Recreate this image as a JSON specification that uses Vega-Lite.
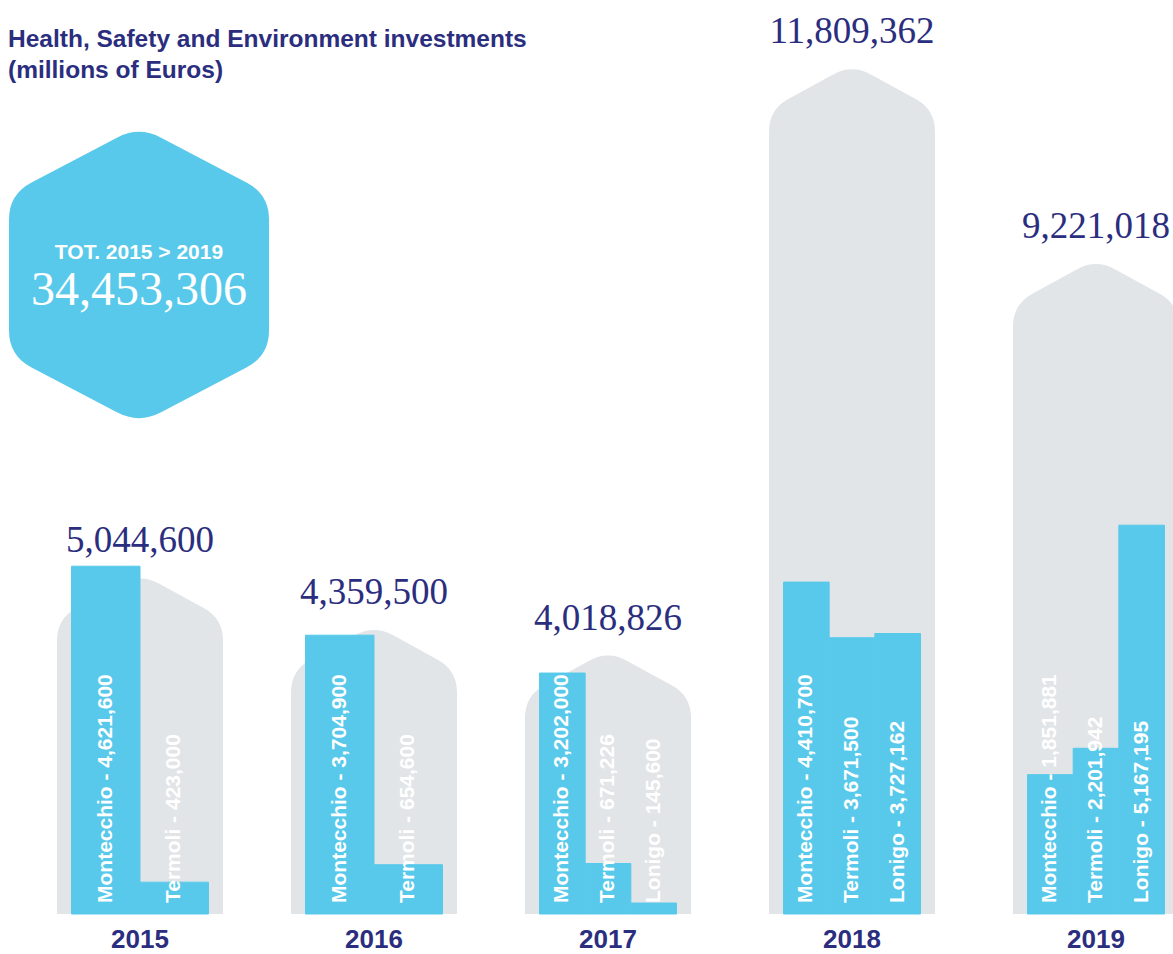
{
  "$schema": "https://vega.github.io/schema/vega-lite/v6.json",
  "padding": {"left": 8, "top": 0, "right": 0, "bottom": 0},
  "background": "#ffffff",
  "bounds": "full",
  "spacing": 78,
  "config": {"view": {"stroke": null}, "axis": {"disable": true}},
  "datasets": {
    "hse": [
      {"year": "2015", "plant": "Montecchio", "value": 4621600, "label": "Montecchio - 4,621,600"},
      {"year": "2015", "plant": "Termoli", "value": 423000, "label": "Termoli - 423,000"},
      {"year": "2016", "plant": "Montecchio", "value": 3704900, "label": "Montecchio - 3,704,900"},
      {"year": "2016", "plant": "Termoli", "value": 654600, "label": "Termoli - 654,600"},
      {"year": "2017", "plant": "Montecchio", "value": 3202000, "label": "Montecchio - 3,202,000"},
      {"year": "2017", "plant": "Termoli", "value": 671226, "label": "Termoli - 671,226"},
      {"year": "2017", "plant": "Lonigo", "value": 145600, "label": "Lonigo - 145,600"},
      {"year": "2018", "plant": "Montecchio", "value": 4410700, "label": "Montecchio - 4,410,700"},
      {"year": "2018", "plant": "Termoli", "value": 3671500, "label": "Termoli - 3,671,500"},
      {"year": "2018", "plant": "Lonigo", "value": 3727162, "label": "Lonigo - 3,727,162"},
      {"year": "2019", "plant": "Montecchio", "value": 1851881, "label": "Montecchio - 1,851,881"},
      {"year": "2019", "plant": "Termoli", "value": 2201942, "label": "Termoli - 2,201,942"},
      {"year": "2019", "plant": "Lonigo", "value": 5167195, "label": "Lonigo - 5,167,195"}
    ]
  },
  "hconcat": [
    {
      "bounds": "flush",
      "spacing": 68,
      "hconcat": [
        {
          "width": 166, "height": 914,
          "data": {"name": "hse"},
          "transform": [{"filter": "datum.year == '2015'"}],
          "layer": [
            {"transform": [{"aggregate": [{"op": "sum", "field": "value", "as": "total"}], "groupby": ["year"]}],
             "layer": [
              {"mark": {"type": "rect", "color": "#e2e5e8", "yOffset": 138},
               "encoding": {"y": {"field": "total", "type": "quantitative", "scale": {"domain": [0, 12146000], "nice": false}, "axis": null}, "y2": {"datum": 0}}},
              {"mark": {"type": "point", "shape": "M-19.3,10.6Q0,0 19.3,10.6L63.7,35Q83,45.6 83,67.6L83,140L-83,140L-83,67.6Q-83,45.6 -63.7,35Z", "size": 4, "filled": true, "color": "#e2e5e8", "opacity": 1, "strokeWidth": 0, "yOffset": 38.7},
               "encoding": {"y": {"field": "total", "type": "quantitative", "scale": {"domain": [0, 12146000], "nice": false}}}},
              {"mark": {"type": "text", "font": "Liberation Serif", "fontSize": 37, "color": "#2b2e7e", "baseline": "alphabetic", "dy": 18},
               "encoding": {"y": {"field": "total", "type": "quantitative", "scale": {"domain": [0, 12146000], "nice": false}}, "text": {"field": "total", "type": "quantitative", "format": ","}}},
              {"mark": {"type": "text", "font": "Liberation Sans", "fontWeight": "bold", "fontSize": 26, "color": "#2b2e7e", "baseline": "alphabetic", "dy": 34},
               "encoding": {"y": {"datum": 0, "type": "quantitative", "scale": {"domain": [0, 12146000], "nice": false}}, "text": {"field": "year", "type": "nominal"}}}
             ]},
            {"mark": {"type": "bar", "color": "#58c9ea", "stroke": "#58c9ea", "strokeWidth": 1},
             "encoding": {"x": {"field": "plant", "type": "nominal", "sort": ["Montecchio", "Termoli", "Lonigo"], "scale": {"paddingInner": 0, "paddingOuter": 0.2117}, "axis": null},
                          "y": {"field": "value", "type": "quantitative", "scale": {"domain": [0, 12146000], "nice": false}, "axis": null}}},
            {"mark": {"type": "text", "angle": 270, "align": "left", "baseline": "middle", "dx": 11, "font": "Liberation Sans", "fontWeight": "bold", "fontSize": 21, "color": "#ffffff"},
             "encoding": {"x": {"field": "plant", "type": "nominal", "sort": ["Montecchio", "Termoli", "Lonigo"], "scale": {"paddingInner": 0, "paddingOuter": 0.2117}, "axis": null},
                          "y": {"datum": 0, "type": "quantitative", "scale": {"domain": [0, 12146000], "nice": false}}, "text": {"field": "label", "type": "nominal"}}},
            {"data": {"name": "hse"},
             "transform": [{"aggregate": [{"op": "sum", "field": "value", "as": "grand"}]}],
             "layer": [
              {"mark": {"type": "point", "shape": "M-22.1,-137.35Q0,-149 22.1,-137.35L107.9,-92.2Q130,-80.5 130,-55.5L130,55.5Q130,80.5 107.9,92.2L22.1,137.35Q0,149 -22.1,137.35L-107.9,92.2Q-130,80.5 -130,55.5L-130,-55.5Q-130,-80.5 -107.9,-92.2Z", "size": 4, "filled": true, "color": "#58c9ea", "opacity": 1, "strokeWidth": 0, "xOffset": -1, "yOffset": -182},
               "encoding": {}},
              {"mark": {"type": "text", "text": "TOT. 2015 > 2019", "font": "Liberation Sans", "fontWeight": "bold", "fontSize": 21, "color": "#ffffff", "baseline": "alphabetic", "dx": -1, "dy": -197.7},
               "encoding": {}},
              {"mark": {"type": "text", "font": "Liberation Serif", "fontSize": 48, "color": "#ffffff", "baseline": "alphabetic", "dx": -1, "dy": -152},
               "encoding": {"text": {"field": "grand", "type": "quantitative", "format": ","}}},
              {"mark": {"type": "text", "text": ["Health, Safety and Environment investments", "(millions of Euros)"], "font": "Liberation Sans", "fontWeight": "bold", "fontSize": 24.5, "lineHeight": 31, "color": "#2b2e7e", "align": "left", "baseline": "alphabetic", "dx": -132, "dy": -410},
               "encoding": {}}
             ]}
          ]
        },
        {
          "width": 166, "height": 914,
          "data": {"name": "hse"},
          "transform": [{"filter": "datum.year == '2016'"}],
          "layer": [
            {"transform": [{"aggregate": [{"op": "sum", "field": "value", "as": "total"}], "groupby": ["year"]}],
             "layer": [
              {"mark": {"type": "rect", "color": "#e2e5e8", "yOffset": 138},
               "encoding": {"y": {"field": "total", "type": "quantitative", "scale": {"domain": [0, 12146000], "nice": false}, "axis": null}, "y2": {"datum": 0}}},
              {"mark": {"type": "point", "shape": "M-19.3,10.6Q0,0 19.3,10.6L63.7,35Q83,45.6 83,67.6L83,140L-83,140L-83,67.6Q-83,45.6 -63.7,35Z", "size": 4, "filled": true, "color": "#e2e5e8", "opacity": 1, "strokeWidth": 0, "yOffset": 38.7},
               "encoding": {"y": {"field": "total", "type": "quantitative", "scale": {"domain": [0, 12146000], "nice": false}}}},
              {"mark": {"type": "text", "font": "Liberation Serif", "fontSize": 37, "color": "#2b2e7e", "baseline": "alphabetic", "dy": 18},
               "encoding": {"y": {"field": "total", "type": "quantitative", "scale": {"domain": [0, 12146000], "nice": false}}, "text": {"field": "total", "type": "quantitative", "format": ","}}},
              {"mark": {"type": "text", "font": "Liberation Sans", "fontWeight": "bold", "fontSize": 26, "color": "#2b2e7e", "baseline": "alphabetic", "dy": 34},
               "encoding": {"y": {"datum": 0, "type": "quantitative", "scale": {"domain": [0, 12146000], "nice": false}}, "text": {"field": "year", "type": "nominal"}}}
             ]},
            {"mark": {"type": "bar", "color": "#58c9ea", "stroke": "#58c9ea", "strokeWidth": 1},
             "encoding": {"x": {"field": "plant", "type": "nominal", "sort": ["Montecchio", "Termoli", "Lonigo"], "scale": {"paddingInner": 0, "paddingOuter": 0.2117}, "axis": null},
                          "y": {"field": "value", "type": "quantitative", "scale": {"domain": [0, 12146000], "nice": false}, "axis": null}}},
            {"mark": {"type": "text", "angle": 270, "align": "left", "baseline": "middle", "dx": 11, "font": "Liberation Sans", "fontWeight": "bold", "fontSize": 21, "color": "#ffffff"},
             "encoding": {"x": {"field": "plant", "type": "nominal", "sort": ["Montecchio", "Termoli", "Lonigo"], "scale": {"paddingInner": 0, "paddingOuter": 0.2117}, "axis": null},
                          "y": {"datum": 0, "type": "quantitative", "scale": {"domain": [0, 12146000], "nice": false}}, "text": {"field": "label", "type": "nominal"}}}
          ]
        },
        {
          "width": 166, "height": 914,
          "data": {"name": "hse"},
          "transform": [{"filter": "datum.year == '2017'"}],
          "layer": [
            {"transform": [{"aggregate": [{"op": "sum", "field": "value", "as": "total"}], "groupby": ["year"]}],
             "layer": [
              {"mark": {"type": "rect", "color": "#e2e5e8", "yOffset": 138},
               "encoding": {"y": {"field": "total", "type": "quantitative", "scale": {"domain": [0, 12146000], "nice": false}, "axis": null}, "y2": {"datum": 0}}},
              {"mark": {"type": "point", "shape": "M-19.3,10.6Q0,0 19.3,10.6L63.7,35Q83,45.6 83,67.6L83,140L-83,140L-83,67.6Q-83,45.6 -63.7,35Z", "size": 4, "filled": true, "color": "#e2e5e8", "opacity": 1, "strokeWidth": 0, "yOffset": 38.7},
               "encoding": {"y": {"field": "total", "type": "quantitative", "scale": {"domain": [0, 12146000], "nice": false}}}},
              {"mark": {"type": "text", "font": "Liberation Serif", "fontSize": 37, "color": "#2b2e7e", "baseline": "alphabetic", "dy": 18},
               "encoding": {"y": {"field": "total", "type": "quantitative", "scale": {"domain": [0, 12146000], "nice": false}}, "text": {"field": "total", "type": "quantitative", "format": ","}}},
              {"mark": {"type": "text", "font": "Liberation Sans", "fontWeight": "bold", "fontSize": 26, "color": "#2b2e7e", "baseline": "alphabetic", "dy": 34},
               "encoding": {"y": {"datum": 0, "type": "quantitative", "scale": {"domain": [0, 12146000], "nice": false}}, "text": {"field": "year", "type": "nominal"}}}
             ]},
            {"mark": {"type": "bar", "color": "#58c9ea", "stroke": "#58c9ea", "strokeWidth": 1},
             "encoding": {"x": {"field": "plant", "type": "nominal", "sort": ["Montecchio", "Termoli", "Lonigo"], "scale": {"paddingInner": 0, "paddingOuter": 0.3175}, "axis": null},
                          "y": {"field": "value", "type": "quantitative", "scale": {"domain": [0, 12146000], "nice": false}, "axis": null}}},
            {"mark": {"type": "text", "angle": 270, "align": "left", "baseline": "middle", "dx": 11, "font": "Liberation Sans", "fontWeight": "bold", "fontSize": 21, "color": "#ffffff"},
             "encoding": {"x": {"field": "plant", "type": "nominal", "sort": ["Montecchio", "Termoli", "Lonigo"], "scale": {"paddingInner": 0, "paddingOuter": 0.3175}, "axis": null},
                          "y": {"datum": 0, "type": "quantitative", "scale": {"domain": [0, 12146000], "nice": false}}, "text": {"field": "label", "type": "nominal"}}}
          ]
        }
      ]
    },
    {
      "width": 166, "height": 914,
      "data": {"name": "hse"},
      "transform": [{"filter": "datum.year == '2018'"}],
      "layer": [
        {"transform": [{"aggregate": [{"op": "sum", "field": "value", "as": "total"}], "groupby": ["year"]}],
         "layer": [
          {"mark": {"type": "rect", "color": "#e2e5e8", "yOffset": 138},
           "encoding": {"y": {"field": "total", "type": "quantitative", "scale": {"domain": [0, 12146000], "nice": false}, "axis": null}, "y2": {"datum": 0}}},
          {"mark": {"type": "point", "shape": "M-19.3,10.6Q0,0 19.3,10.6L63.7,35Q83,45.6 83,67.6L83,140L-83,140L-83,67.6Q-83,45.6 -63.7,35Z", "size": 4, "filled": true, "color": "#e2e5e8", "opacity": 1, "strokeWidth": 0, "yOffset": 38.7},
           "encoding": {"y": {"field": "total", "type": "quantitative", "scale": {"domain": [0, 12146000], "nice": false}}}},
          {"mark": {"type": "text", "font": "Liberation Serif", "fontSize": 37, "color": "#2b2e7e", "baseline": "alphabetic", "dy": 18},
           "encoding": {"y": {"field": "total", "type": "quantitative", "scale": {"domain": [0, 12146000], "nice": false}}, "text": {"field": "total", "type": "quantitative", "format": ","}}},
          {"mark": {"type": "text", "font": "Liberation Sans", "fontWeight": "bold", "fontSize": 26, "color": "#2b2e7e", "baseline": "alphabetic", "dy": 34},
           "encoding": {"y": {"datum": 0, "type": "quantitative", "scale": {"domain": [0, 12146000], "nice": false}}, "text": {"field": "year", "type": "nominal"}}}
         ]},
        {"mark": {"type": "bar", "color": "#58c9ea", "stroke": "#58c9ea", "strokeWidth": 1},
         "encoding": {"x": {"field": "plant", "type": "nominal", "sort": ["Montecchio", "Termoli", "Lonigo"], "scale": {"paddingInner": 0, "paddingOuter": 0.3175}, "axis": null},
                      "y": {"field": "value", "type": "quantitative", "scale": {"domain": [0, 12146000], "nice": false}, "axis": null}}},
        {"mark": {"type": "text", "angle": 270, "align": "left", "baseline": "middle", "dx": 11, "font": "Liberation Sans", "fontWeight": "bold", "fontSize": 21, "color": "#ffffff"},
         "encoding": {"x": {"field": "plant", "type": "nominal", "sort": ["Montecchio", "Termoli", "Lonigo"], "scale": {"paddingInner": 0, "paddingOuter": 0.3175}, "axis": null},
                      "y": {"datum": 0, "type": "quantitative", "scale": {"domain": [0, 12146000], "nice": false}}, "text": {"field": "label", "type": "nominal"}}}
      ]
    },
    {
      "width": 166, "height": 914,
      "data": {"name": "hse"},
      "transform": [{"filter": "datum.year == '2019'"}],
      "layer": [
        {"transform": [{"aggregate": [{"op": "sum", "field": "value", "as": "total"}], "groupby": ["year"]}],
         "layer": [
          {"mark": {"type": "rect", "color": "#e2e5e8", "yOffset": 138},
           "encoding": {"y": {"field": "total", "type": "quantitative", "scale": {"domain": [0, 12146000], "nice": false}, "axis": null}, "y2": {"datum": 0}}},
          {"mark": {"type": "point", "shape": "M-19.3,10.6Q0,0 19.3,10.6L63.7,35Q83,45.6 83,67.6L83,140L-83,140L-83,67.6Q-83,45.6 -63.7,35Z", "size": 4, "filled": true, "color": "#e2e5e8", "opacity": 1, "strokeWidth": 0, "yOffset": 38.7},
           "encoding": {"y": {"field": "total", "type": "quantitative", "scale": {"domain": [0, 12146000], "nice": false}}}},
          {"mark": {"type": "text", "font": "Liberation Serif", "fontSize": 37, "color": "#2b2e7e", "baseline": "alphabetic", "dy": 18},
           "encoding": {"y": {"field": "total", "type": "quantitative", "scale": {"domain": [0, 12146000], "nice": false}}, "text": {"field": "total", "type": "quantitative", "format": ","}}},
          {"mark": {"type": "text", "font": "Liberation Sans", "fontWeight": "bold", "fontSize": 26, "color": "#2b2e7e", "baseline": "alphabetic", "dy": 34},
           "encoding": {"y": {"datum": 0, "type": "quantitative", "scale": {"domain": [0, 12146000], "nice": false}}, "text": {"field": "year", "type": "nominal"}}}
         ]},
        {"mark": {"type": "bar", "color": "#58c9ea", "stroke": "#58c9ea", "strokeWidth": 1},
         "encoding": {"x": {"field": "plant", "type": "nominal", "sort": ["Montecchio", "Termoli", "Lonigo"], "scale": {"paddingInner": 0, "paddingOuter": 0.3175}, "axis": null},
                      "y": {"field": "value", "type": "quantitative", "scale": {"domain": [0, 12146000], "nice": false}, "axis": null}}},
        {"mark": {"type": "text", "angle": 270, "align": "left", "baseline": "middle", "dx": 11, "font": "Liberation Sans", "fontWeight": "bold", "fontSize": 21, "color": "#ffffff"},
         "encoding": {"x": {"field": "plant", "type": "nominal", "sort": ["Montecchio", "Termoli", "Lonigo"], "scale": {"paddingInner": 0, "paddingOuter": 0.3175}, "axis": null},
                      "y": {"datum": 0, "type": "quantitative", "scale": {"domain": [0, 12146000], "nice": false}}, "text": {"field": "label", "type": "nominal"}}}
      ]
    }
  ]
}
